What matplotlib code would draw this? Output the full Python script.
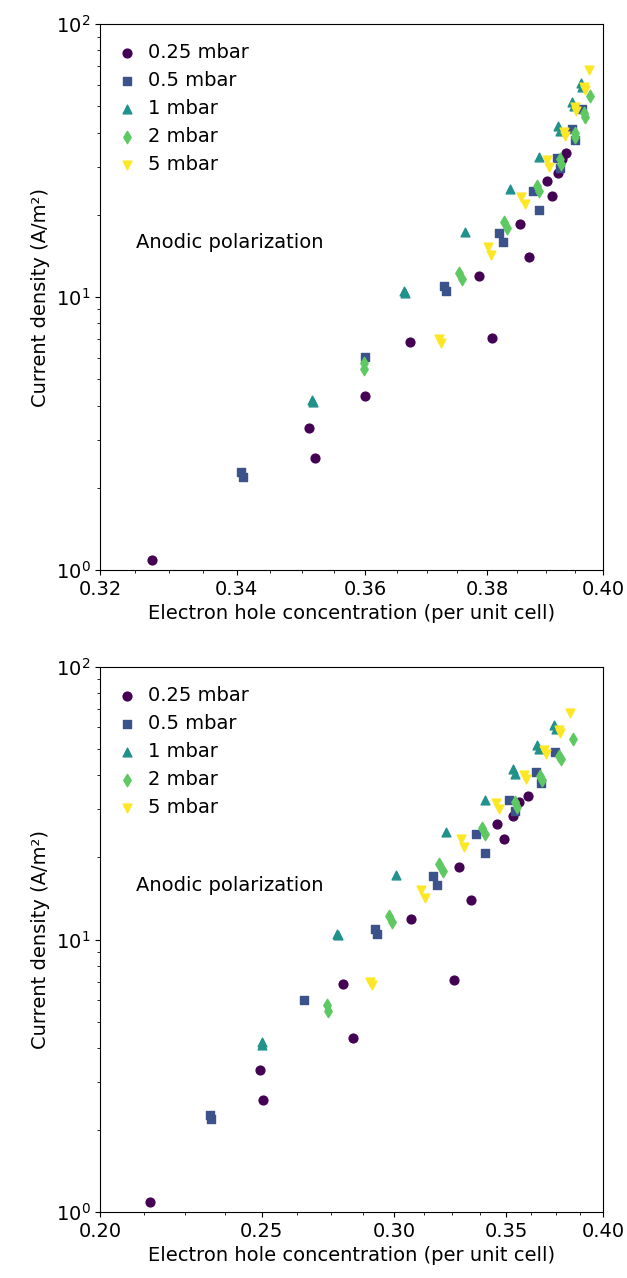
import numpy as np
import matplotlib
matplotlib.use("Agg")
import matplotlib.pyplot as plt
from matplotlib.ticker import FixedLocator, MultipleLocator, FormatStrFormatter, NullFormatter

# current density (A/m2) for each partial pressure, shared by both panels
labels = ['0.25 mbar', '0.5 mbar', '1 mbar', '2 mbar', '5 mbar']
markers = ['o', 's', '^', 'd', 'v']

j_025 = [1.09, 3.31, 2.57, 4.35, 6.85, 11.9, 7.1, 18.5, 14.0, 26.5, 23.4, 28.4, 32.0, 33.6]
j_05 = [2.28, 2.19, 6.01, 10.97, 10.52, 17.1, 15.9, 24.4, 20.8, 32.4, 29.6, 41.2, 37.6, 48.7]
j_1 = [4.2, 4.11, 10.5, 10.37, 17.3, 24.9, 32.6, 42.3, 40.5, 51.9, 50.0, 61.0, 59.0]
j_2 = [5.73, 5.45, 12.2, 11.6, 18.9, 17.9, 25.6, 24.4, 31.9, 30.6, 39.8, 38.5, 47.1, 45.8, 54.5]
j_5 = [7.0, 6.8, 15.2, 14.2, 23.3, 21.9, 31.8, 30.0, 40.3, 38.9, 49.5, 48.1, 58.9, 57.3, 67.8]

# electron hole concentration, upper panel
x_025_a = [0.3275, 0.3511, 0.3520, 0.3600, 0.3672, 0.3786, 0.3808, 0.3855, 0.3871, 0.3902, 0.3911, 0.3922, 0.3928, 0.3935]
x_05_a = [0.3407, 0.3409, 0.3599, 0.3728, 0.3731, 0.3820, 0.3826, 0.3878, 0.3889, 0.3919, 0.3924, 0.3945, 0.3950, 0.3964]
x_1_a = [0.3515, 0.3517, 0.3662, 0.3664, 0.3763, 0.3838, 0.3888, 0.3922, 0.3925, 0.3946, 0.3949, 0.3962, 0.3964]
x_2_a = [0.3597, 0.3598, 0.3753, 0.3757, 0.3828, 0.3834, 0.3885, 0.3889, 0.3924, 0.3926, 0.3950, 0.3951, 0.3966, 0.3968, 0.3978]
x_5_a = [0.3720, 0.3723, 0.3802, 0.3807, 0.3858, 0.3864, 0.3902, 0.3905, 0.3931, 0.3934, 0.3951, 0.3953, 0.3966, 0.3969, 0.3975]

# electron hole concentration, lower panel
x_025_b = [0.2142, 0.2492, 0.2505, 0.2836, 0.2797, 0.3070, 0.3258, 0.3281, 0.3337, 0.3458, 0.3490, 0.3535, 0.3563, 0.3607]
x_05_b = [0.2327, 0.2330, 0.2649, 0.2923, 0.2930, 0.3167, 0.3181, 0.3357, 0.3399, 0.3514, 0.3546, 0.3646, 0.3671, 0.3744]
x_1_b = [0.2499, 0.2501, 0.2774, 0.2776, 0.3007, 0.3221, 0.3399, 0.3535, 0.3546, 0.3654, 0.3665, 0.3742, 0.3748]
x_2_b = [0.2734, 0.2737, 0.2980, 0.2990, 0.3192, 0.3207, 0.3385, 0.3399, 0.3543, 0.3554, 0.3668, 0.3679, 0.3764, 0.3776, 0.3837]
x_5_b = [0.2903, 0.2908, 0.3113, 0.3130, 0.3291, 0.3302, 0.3451, 0.3465, 0.3588, 0.3596, 0.3688, 0.3696, 0.3764, 0.3772, 0.3825]

ys = [j_025, j_05, j_1, j_2, j_5]
xs_top = [x_025_a, x_05_a, x_1_a, x_2_a, x_5_a]
xs_bot = [x_025_b, x_05_b, x_1_b, x_2_b, x_5_b]

colors = plt.cm.viridis(np.linspace(0, 1, 5))

plt.rcParams['font.family'] = ['DejaVu Sans']
plt.rcParams['font.size'] = 14

fig = plt.figure(figsize=(6.27, 12.78), dpi=100)
ax1 = fig.add_axes([0.1595, 0.554, 0.802, 0.4272])
ax2 = fig.add_axes([0.1595, 0.0516, 0.802, 0.4265])


def draw(ax, xs, xlim, major, minor_step):
    for x, y, c, m, lab in zip(xs, ys, colors, markers, labels):
        ax.scatter(x, y, color=c, marker=m, s=40, label=lab)
    ax.set_xscale('log')
    ax.set_yscale('log')
    ax.set_xlim(xlim)
    ax.set_ylim(1, 100)
    ax.xaxis.set_major_locator(FixedLocator(major))
    ax.xaxis.set_major_formatter(FormatStrFormatter('%.2f'))
    ax.xaxis.set_minor_locator(MultipleLocator(minor_step))
    ax.xaxis.set_minor_formatter(NullFormatter())
    ax.set_xlabel('Electron hole concentration (per unit cell)')
    ax.set_ylabel('Current density (A/m²)')
    ax.text(0.072, 0.6, 'Anodic polarization', transform=ax.transAxes, va='center')
    ax.legend(loc='upper left', frameon=False, handlelength=0.8, handletextpad=0.65,
              labelspacing=0.46, borderaxespad=0.6)


draw(ax1, xs_top, (0.32, 0.40), [0.32, 0.34, 0.36, 0.38, 0.40], 0.005)
draw(ax2, xs_bot, (0.20, 0.40), [0.20, 0.25, 0.30, 0.35, 0.40], 0.0125)

fig.savefig('out.png', dpi=100)
